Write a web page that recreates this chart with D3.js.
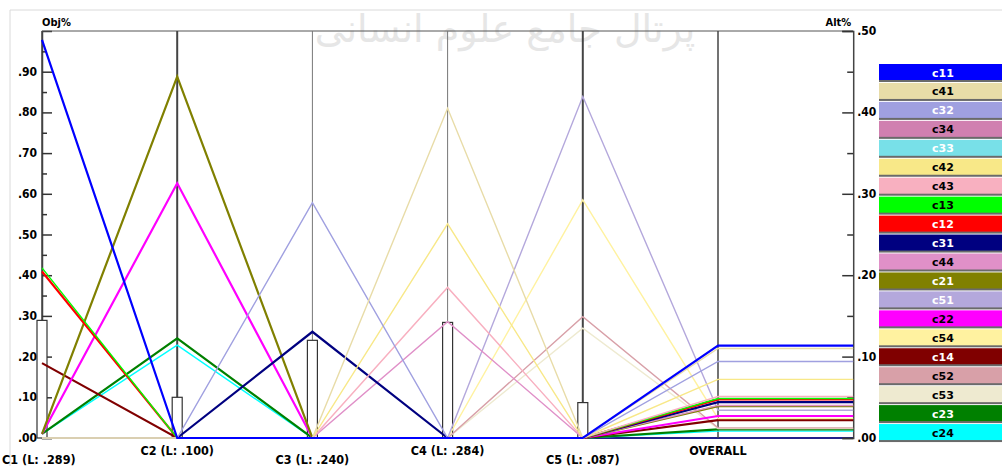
<html>
<head>
  <meta charset="utf-8">
  <title></title>
  <style>
    body { margin: 0; background: #fff; }
    svg text { font-family: "Liberation Sans Narrow", "DejaVu Sans Condensed", "Liberation Sans", sans-serif; }
  </style>
</head>
<body>
<div id="chart"></div>
<script src="https://cdn.jsdelivr.net/npm/d3@7/dist/d3.min.js"></script>
<script>
// criteria and their weights
var criteria = ['C1', 'C2', 'C3', 'C4', 'C5']
var critWeights = [.289, .100, .240, .284, .087]

// alternatives in legend order
var alts = ['c11', 'c41', 'c32', 'c34', 'c33', 'c42', 'c43', 'c13', 'c12', 'c31',
            'c44', 'c21', 'c51', 'c22', 'c54', 'c14', 'c52', 'c53', 'c23', 'c24']
var altColors = ['#0000ff', '#e8dca8', '#a0a0e0', '#d080b0', '#78e0e8', '#f8e888', '#f8b0c0', '#00ff00', '#ff0000', '#000080',
                 '#e090c8', '#808000', '#b4a8dc', '#ff00ff', '#fff2a0', '#800000', '#d8a0a8', '#eeead0', '#008000', '#00ffff']
var darkText = ['c41', 'c34', 'c42', 'c43', 'c13', 'c44', 'c22', 'c54', 'c52', 'c53', 'c24']

// local priorities under each criterion (null = alternative not shown)
var localC1 = [.978, 0, 0, null, null, 0, 0, .418, .409, 0, 0, .01, 0, .01, 0, .184, 0, 0, .01, .01]
var localC2 = [0, 0, 0, null, null, 0, 0, 0, 0, 0, 0, .888, 0, .626, 0, 0, 0, 0, .245, .228]
var localC3 = [0, 0, .578, null, null, 0, 0, 0, 0, .261, 0, 0, 0, 0, 0, 0, 0, 0, 0, 0]
var localC4 = [0, .81, 0, null, null, .526, .37, 0, 0, 0, .286, 0, 0, 0, 0, 0, 0, 0, 0, 0]
var localC5 = [0, 0, 0, null, null, 0, 0, 0, 0, 0, 0, 0, .839, 0, .585, 0, .298, .27, 0, 0]
var overall = [.1135, .110, .094, null, null, .072, .051, .0485, .0475, .044, .040, .039, .034, .027, .024, .022, .0125, .0115, .0105, .0085]

var objTicks = d3.range(0, 0.91, 0.1)
var altTicks = d3.range(0, 0.51, 0.1)

var width = 1002
var height = 466
var plotTop = 31, plotBottom = 438

var svg = d3.select('#chart').append('svg')
  .attr('width', width)
  .attr('height', height)

// faint window frame
svg.append('path').attr('d', 'M10,466V10H1002').attr('fill', 'none').attr('stroke', '#dadada')

// watermark
svg.append('text')
  .attr('x', 505).attr('y', 42)
  .attr('text-anchor', 'middle')
  .attr('direction', 'rtl')
  .style('font-family', '"DejaVu Sans", sans-serif')
  .style('font-size', '38px')
  .attr('fill', '#e6e6e6')
  .text('پرتال جامع علوم انسانی')

var xScale = d3.scalePoint()
  .domain(criteria.concat(['OVERALL']))
  .range([42, 718])
var xRight = 718 + xScale.step()

var yObj = d3.scaleLinear().domain([0, 1]).range([plotBottom, plotTop])
var yAlt = d3.scaleLinear().domain([0, 0.5]).range([plotBottom, plotTop])

var fmt = function(d) { return d3.format('.2f')(d).replace(/^0/, '') }
var fmt3 = function(d) { return d3.format('.3f')(d).replace(/^0/, '') }

// frame lines
svg.append('line').attr('x1', 42).attr('x2', xRight).attr('y1', plotTop).attr('y2', plotTop)
  .attr('stroke', '#555').attr('stroke-width', 1)
svg.append('line').attr('x1', 42).attr('x2', xRight).attr('y1', plotBottom).attr('y2', plotBottom)
  .attr('stroke', '#20208a').attr('stroke-width', 2)

// criterion verticals
var vWidths = { C1: 1.5, C2: 2, C3: 1, C4: 1, C5: 2, OVERALL: 1.5 }
svg.selectAll('line.crit')
  .data(xScale.domain())
  .enter()
  .append('line')
  .attr('class', 'crit')
  .attr('x1', function(d) { return xScale(d) })
  .attr('x2', function(d) { return xScale(d) })
  .attr('y1', plotTop).attr('y2', plotBottom)
  .attr('stroke', function(d) { return vWidths[d] > 1 ? '#444' : '#777' })
  .attr('stroke-width', function(d) { return vWidths[d] })

// left axis, ticks pointing into the plot
var leftAxis = d3.axisRight(yObj)
  .tickValues(d3.range(0, 0.96, 0.05))
  .tickSize(10)
  .tickFormat('')
var gLeft = svg.append('g').attr('transform', 'translate(42,0)').call(leftAxis)
gLeft.selectAll('.tick line')
  .attr('x2', function(d) { return Math.round(d * 100) % 10 === 0 ? 10 : 5 })
  .attr('stroke', '#333').attr('stroke-width', 1.5)
gLeft.select('.domain').attr('stroke', '#444').attr('stroke-width', 1.5)
svg.selectAll('text.objlab')
  .data(objTicks)
  .enter()
  .append('text')
  .attr('class', 'objlab')
  .attr('x', 37)
  .attr('y', function(d) { return yObj(d) + 4 })
  .attr('text-anchor', 'end')
  .style('font-size', '12px').style('font-weight', 'bold')
  .text(fmt)

// right axis
var rightAxis = d3.axisLeft(yAlt)
  .tickValues(d3.range(0, 0.51, 0.05))
  .tickSize(11)
  .tickFormat('')
var gRight = svg.append('g').attr('transform', 'translate(' + xRight + ',0)').call(rightAxis)
gRight.selectAll('.tick line')
  .attr('x2', function(d) { return Math.round(d * 100) % 10 === 0 ? -11 : -6 })
  .attr('stroke', '#333').attr('stroke-width', 1.5)
gRight.select('.domain').attr('stroke', '#444').attr('stroke-width', 1.5)
svg.selectAll('text.altlab')
  .data(altTicks)
  .enter()
  .append('text')
  .attr('class', 'altlab')
  .attr('x', xRight + 4)
  .attr('y', function(d) { return yAlt(d) + 4 })
  .style('font-size', '12px').style('font-weight', 'bold')
  .text(fmt)

svg.append('text').attr('x', 42).attr('y', 26)
  .style('font-size', '11px').style('font-weight', 'bold').text('Obj%')
svg.append('text').attr('x', xRight - 2).attr('y', 26).attr('text-anchor', 'end')
  .style('font-size', '11px').style('font-weight', 'bold').text('Alt%')

// criterion weight bars
svg.selectAll('rect.weight')
  .data(critWeights)
  .enter()
  .append('rect')
  .attr('class', 'weight')
  .attr('x', function(d, i) { return xScale(criteria[i]) - 5 })
  .attr('y', function(d) { return yObj(d) })
  .attr('width', 10)
  .attr('height', function(d) { return plotBottom - yObj(d) })
  .attr('fill', '#fff')
  .attr('stroke', '#333')
  .attr('stroke-width', 1.2)

// alternative lines
var locals = [localC1, localC2, localC3, localC4, localC5]
var rows = alts.map(function(a, i) {
  return {
    name: a,
    color: altColors[i],
    vals: locals.map(function(arr) { return arr[i] }),
    overall: overall[i]
  }
}).filter(function(r) { return r.overall !== null })

var line = d3.line()
svg.selectAll('path.alt')
  .data(rows.slice().reverse())
  .enter()
  .append('path')
  .attr('class', 'alt')
  .attr('fill', 'none')
  .attr('stroke', function(d) { return d.color })
  .attr('stroke-width', function(d) { return d3.lab(d.color).l > 62 ? 1.4 : 2.2 })
  .attr('d', function(d) {
    var pts = d.vals.map(function(v, j) { return [xScale(criteria[j]), yObj(v)] })
    pts.push([xScale('OVERALL'), yAlt(d.overall)])
    pts.push([xRight, yAlt(d.overall)])
    return line(pts)
  })

// bottom labels, alternating rows
svg.selectAll('text.critlab')
  .data(criteria)
  .enter()
  .append('text')
  .attr('class', 'critlab')
  .attr('x', function(d, i) { return i === 0 ? 2 : xScale(d) })
  .attr('y', function(d, i) { return i % 2 === 0 ? 464 : 455 })
  .attr('text-anchor', function(d, i) { return i === 0 ? 'start' : 'middle' })
  .style('font-size', '12.5px').style('font-weight', 'bold')
  .text(function(d, i) { return d + ' (L: ' + fmt3(critWeights[i]) + ')' })
svg.append('text')
  .attr('x', xScale('OVERALL')).attr('y', 455)
  .attr('text-anchor', 'middle')
  .style('font-size', '12.5px').style('font-weight', 'bold')
  .text('OVERALL')

// legend
var legend = svg.selectAll('g.leg')
  .data(alts)
  .enter()
  .append('g')
  .attr('class', 'leg')
  .attr('transform', function(d, i) { return 'translate(879,' + (64 + i * 18.95) + ')' })
legend.append('rect')
  .attr('width', 130).attr('height', 17)
  .attr('fill', '#6a6a6a')
  .attr('y', 1)
legend.append('rect')
  .attr('width', 130).attr('height', 16)
  .attr('fill', function(d, i) { return altColors[i] })
legend.append('text')
  .attr('x', 64).attr('y', 12.5)
  .attr('text-anchor', 'middle')
  .style('font-family', '"DejaVu Sans", sans-serif')
  .style('font-size', '11px').style('font-weight', 'bold')
  .attr('fill', function(d) { return darkText.indexOf(d) >= 0 ? '#000' : '#fff' })
  .text(function(d) { return d })
</script>
</body>
</html>
